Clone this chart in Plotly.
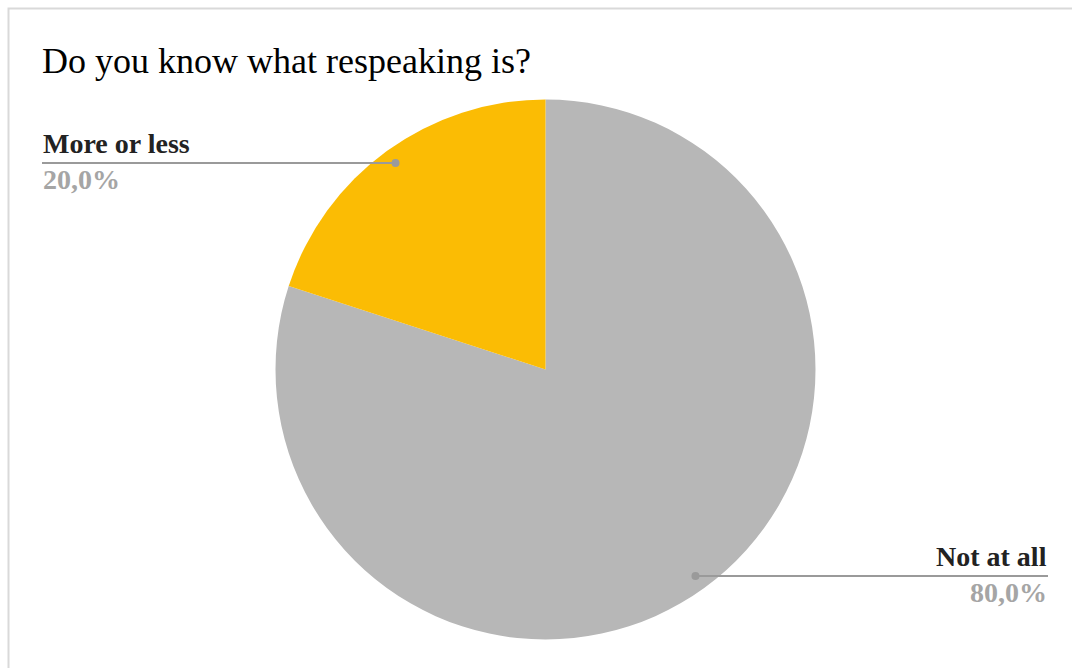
import math
import plotly.graph_objects as go

# Survey answers (drawn clockwise from 12 o'clock)
answers = ["Not at all", "More or less"]
shares = [80.0, 20.0]
slice_colors = ["#B7B7B7", "#FBBC04"]
label_side = ["right", "left"]
title_text = "Do you know what respeaking is?"

W, H = 1072, 668
cx, cy, r = 545.5, 369.5, 270.0

fig = go.Figure()

fig.add_trace(go.Pie(
    labels=answers,
    values=shares,
    marker=dict(colors=slice_colors, line=dict(width=0)),
    sort=False,
    direction="clockwise",
    rotation=0,
    textinfo="none",
    hoverinfo="label+percent",
    showlegend=False,
    domain=dict(x=[(cx - r) / W, (cx + r) / W], y=[1 - (cy + r) / H, 1 - (cy - r) / H]),
))

# Leader lines: anchor at the middle of each slice, 94.5% out from the centre
total = sum(shares)
start = 0.0
for name, val, side in zip(answers, shares, label_side):
    mid = start + val / total * 360 / 2
    start += val / total * 360
    ang = math.radians(mid)
    px = cx + math.sin(ang) * r * 0.945
    py = cy - math.cos(ang) * r * 0.945
    end_x = 42 if side == "left" else 1048
    fig.add_shape(type="line", xref="x", yref="y", x0=px, x1=end_x, y0=py, y1=py,
                  line=dict(color="#9A9A9A", width=2))
    fig.add_shape(type="circle", xref="x", yref="y", x0=px - 4, x1=px + 4,
                  y0=py - 4, y1=py + 4, fillcolor="#9A9A9A", line=dict(width=0))
    anchor = "left" if side == "left" else "right"
    fig.add_annotation(xref="x", yref="y", x=end_x, y=py - 3, text=f"<b>{name}</b>",
                       showarrow=False, xanchor=anchor, yanchor="bottom",
                       font=dict(family="Liberation Serif", size=28, color="#222222"),
                       borderpad=0)
    pct = f"{val / total * 100:.1f}%".replace(".", ",")
    fig.add_annotation(xref="x", yref="y", x=end_x, y=py, text=f"<b>{pct}</b>",
                       showarrow=False, xanchor=anchor, yanchor="top",
                       font=dict(family="Liberation Serif", size=28, color="#A5A5A5"),
                       borderpad=0)

fig.add_annotation(xref="x", yref="y", x=40, y=61, text=title_text, showarrow=False,
                   xanchor="left", yanchor="middle",
                   font=dict(family="Liberation Serif", size=36, color="#000000"))

# Outer frame
fig.add_shape(type="rect", xref="x", yref="y", x0=8.5, y0=8.5, x1=W + 10, y1=H + 10,
              line=dict(color="#D9D9D9", width=2), layer="below")

fig.update_layout(
    width=W, height=H,
    margin=dict(l=0, r=0, t=0, b=0),
    paper_bgcolor="white", plot_bgcolor="rgba(0,0,0,0)",
    xaxis=dict(range=[0, W], visible=False, fixedrange=True),
    yaxis=dict(range=[H, 0], visible=False, fixedrange=True),
)

fig.write_html("out.html")
